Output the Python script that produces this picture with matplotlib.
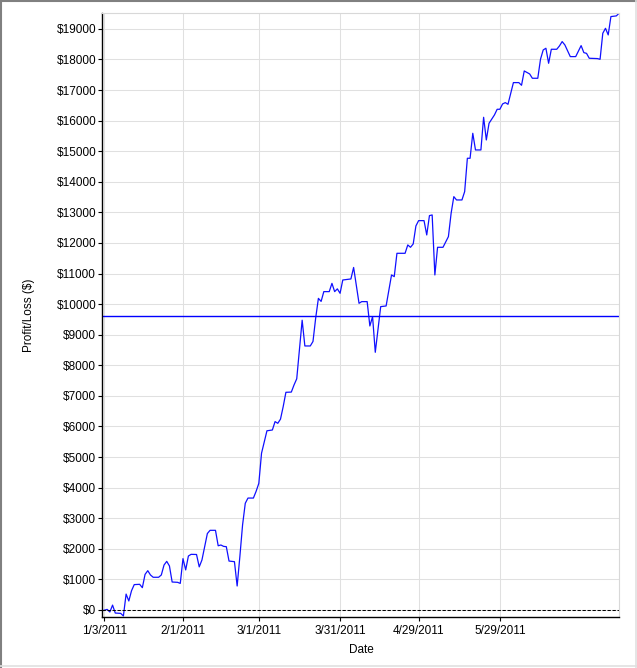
import numpy as np
import pandas as pd
import matplotlib
matplotlib.use("Agg")
from matplotlib import pyplot as plt
from matplotlib.lines import Line2D

plt.rcParams['font.family'] = ['Liberation Sans', 'DejaVu Sans']

# daily profit/loss curve
dates = ['2011-01-02', '2011-01-04', '2011-01-05', '2011-01-06', '2011-01-07', '2011-01-09',
         '2011-01-10', '2011-01-11', '2011-01-12', '2011-01-13', '2011-01-14', '2011-01-16',
         '2011-01-17', '2011-01-18', '2011-01-19', '2011-01-20', '2011-01-21', '2011-01-23',
         '2011-01-24', '2011-01-25', '2011-01-26', '2011-01-27', '2011-01-28', '2011-01-30',
         '2011-01-31', '2011-02-01', '2011-02-02', '2011-02-03', '2011-02-04', '2011-02-06',
         '2011-02-07', '2011-02-08', '2011-02-09', '2011-02-10', '2011-02-11', '2011-02-13',
         '2011-02-14', '2011-02-15', '2011-02-16', '2011-02-17', '2011-02-18', '2011-02-20',
         '2011-02-21', '2011-02-22', '2011-02-23', '2011-02-24', '2011-02-25', '2011-02-27',
         '2011-02-28', '2011-03-01', '2011-03-02', '2011-03-03', '2011-03-04', '2011-03-06',
         '2011-03-07', '2011-03-08', '2011-03-09', '2011-03-10', '2011-03-11', '2011-03-13',
         '2011-03-14', '2011-03-15', '2011-03-16', '2011-03-17', '2011-03-18', '2011-03-20',
         '2011-03-21', '2011-03-22', '2011-03-23', '2011-03-24', '2011-03-25', '2011-03-27',
         '2011-03-28', '2011-03-29', '2011-03-30', '2011-03-31', '2011-04-01', '2011-04-04',
         '2011-04-05', '2011-04-07', '2011-04-08', '2011-04-10', '2011-04-11', '2011-04-12',
         '2011-04-13', '2011-04-15', '2011-04-17', '2011-04-19', '2011-04-20', '2011-04-21',
         '2011-04-24', '2011-04-25', '2011-04-26', '2011-04-27', '2011-04-28', '2011-04-29',
         '2011-05-01', '2011-05-02', '2011-05-03', '2011-05-04', '2011-05-05', '2011-05-06',
         '2011-05-08', '2011-05-10', '2011-05-11', '2011-05-12', '2011-05-13', '2011-05-15',
         '2011-05-16', '2011-05-17', '2011-05-18', '2011-05-19', '2011-05-20', '2011-05-22',
         '2011-05-23', '2011-05-24', '2011-05-25', '2011-05-27', '2011-05-28', '2011-05-29',
         '2011-05-30', '2011-05-31', '2011-06-01', '2011-06-02', '2011-06-03', '2011-06-05',
         '2011-06-06', '2011-06-07', '2011-06-09', '2011-06-10', '2011-06-12', '2011-06-13',
         '2011-06-14', '2011-06-15', '2011-06-16', '2011-06-17', '2011-06-19', '2011-06-20',
         '2011-06-21', '2011-06-22', '2011-06-23', '2011-06-24', '2011-06-26', '2011-06-28',
         '2011-06-29', '2011-06-30', '2011-07-01', '2011-07-04', '2011-07-05', '2011-07-06',
         '2011-07-07', '2011-07-08', '2011-07-09', '2011-07-11', '2011-07-12']
pnl = [-30, 20, -65, 160, -100, -110,
       -195, 520, 295, 630, 830, 840,
       730, 1165, 1285, 1145, 1070, 1070,
       1145, 1470, 1590, 1440, 915, 905,
       870, 1680, 1310, 1765, 1820, 1815,
       1410, 1635, 2070, 2500, 2605, 2605,
       2100, 2125, 2080, 2070, 1600, 1580,
       785, 1745, 2780, 3490, 3660, 3660,
       3880, 4140, 5125, 5500, 5860, 5885,
       6160, 6104, 6240, 6650, 7118, 7125,
       7358, 7560, 8500, 9475, 8633, 8633,
       8780, 9550, 10190, 10090, 10410, 10410,
       10680, 10410, 10500, 10355, 10790, 10824,
       11200, 10028, 10083, 10083, 9287, 9592,
       8426, 9919, 9941, 10955, 10900, 11663,
       11663, 11936, 11859, 11968, 12557, 12731,
       12731, 12263, 12895, 12917, 10955, 11859,
       11859, 12208, 12971, 13516, 13407, 13407,
       13680, 14770, 14770, 15587, 15042, 15042,
       16110, 15369, 15914, 16187, 16372, 16372,
       16546, 16590, 16535, 16895, 17244, 17244,
       17157, 17625, 17527, 17386, 17386, 18007,
       18312, 18367, 17876, 18334, 18334, 18443,
       18585, 18476, 18285, 18094, 18094, 18454,
       18225, 18200, 18040, 18030, 18007, 18857,
       19020, 18803, 19403, 19425, 19511]
mean_pnl = 9600

tick_dates = ['2011-01-03', '2011-02-01', '2011-03-01', '2011-03-31', '2011-04-29', '2011-05-29']
tick_labels = ['1/3/2011', '2/1/2011', '3/1/2011', '3/31/2011', '4/29/2011', '5/29/2011']
y_ticks = list(range(0, 20000, 1000))

x = pd.to_datetime(dates)
y = np.array(pnl)

fig = plt.figure(figsize=(6.37, 6.68), dpi=100)
ax = fig.add_axes([0.1597, 0.0763, 0.8121, 0.9047])

ax.plot(x, y, color='#1010ff', lw=0.9)
ax.axhline(mean_pnl, color='#0000ff', lw=1.0)
ax.axhline(0, color='black', lw=0.75, dashes=(3.2, 1.6))

ax.set_xlim(pd.Timestamp('2011-01-02'), pd.Timestamp('2011-07-12'))
ax.set_ylim(-230, 19530)

ax.set_xticks(pd.to_datetime(tick_dates))
ax.set_xticklabels(tick_labels)
ax.set_yticks(y_ticks)
ax.set_yticklabels(['$' + str(v) for v in y_ticks])

ax.grid(True, color='#e0e0e0', lw=0.75)
ax.set_axisbelow(True)
ax.tick_params(axis='both', labelsize=8.5, length=3, width=0.8, color='black')
ax.tick_params(axis='y', pad=1)
ax.tick_params(axis='x', pad=2.5)
for s in ['top', 'right']:
    ax.spines[s].set_color('#d8d8d8')
    ax.spines[s].set_linewidth(0.8)
for s in ['left', 'bottom']:
    ax.spines[s].set_color('black')
    ax.spines[s].set_linewidth(1.0)

fig.text(29 / 637, 1 - 315 / 668, 'Profit/Loss ($)', rotation=90, ha='center', va='center', fontsize=8.5)
fig.text(361 / 637, 1 - 650 / 668, 'Date', ha='center', va='center', fontsize=8.5)

# window-like border round the figure
fig.add_artist(Line2D([0.001, 0.001], [0, 1], transform=fig.transFigure, color='#808080', lw=1.5))
fig.add_artist(Line2D([0, 1], [0.999, 0.999], transform=fig.transFigure, color='#808080', lw=1.5))
fig.add_artist(Line2D([635.5 / 637, 635.5 / 637], [0, 1], transform=fig.transFigure, color='#e0e0e0', lw=1.2))
fig.add_artist(Line2D([0, 1], [1 - 665.5 / 668, 1 - 665.5 / 668], transform=fig.transFigure, color='#e0e0e0', lw=1.2))

fig.savefig('out.png', dpi=100)
